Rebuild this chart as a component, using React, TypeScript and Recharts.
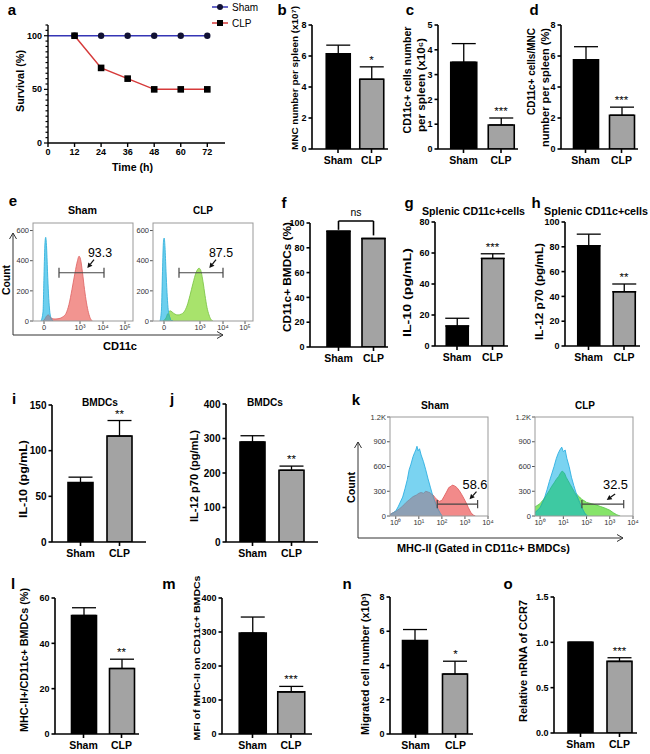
import React from 'react';
import {
  ComposedChart, LineChart, Line, Bar, XAxis, YAxis, ErrorBar, Cell, LabelList,
  Area, ReferenceLine, Legend,
} from 'recharts';

const FONT = '"Liberation Sans", Arial, Helvetica, sans-serif';
const GROUPS = ['Sham', 'CLP'];

// ---------- panel a: survival ----------
const TIME = [0, 12, 24, 36, 48, 60, 72];
const SURV_SHAM = [100, 100, 100, 100, 100, 100, 100];
const SURV_CLP: (number | null)[] = [null, 100, 70, 60, 50, 50, 50];
const TIME_TICKS = [0, 12, 24, 36, 48, 60, 72];
const SURV_TICKS = [0, 5, 10, 15, 20, 25, 30, 35, 40, 45, 50, 55, 60, 65, 70, 75, 80, 85, 90, 95, 100, 105, 110];

// ---------- bar panels (Sham, CLP) ----------
const B_MEAN = [6.15, 4.5]; const B_ERR = [0.55, 0.8]; const B_TICKS = [0, 2, 4, 6, 8];
const C_MEAN = [3.5, 0.97]; const C_ERR = [0.75, 0.28]; const C_TICKS = [0, 1, 2, 3, 4, 5];
const D_MEAN = [5.75, 2.18]; const D_ERR = [0.85, 0.52]; const D_TICKS = [0, 2, 4, 6, 8];
const F_MEAN = [93.3, 87.5]; const F_ERR = [0, 0]; const F_TICKS = [0, 20, 40, 60, 80, 100];
const F_BRACKET = [94.5, 101.6, 90];
const G_MEAN = [12.9, 56.5]; const G_ERR = [5, 3]; const G_TICKS = [0, 20, 40, 60, 80];
const H_MEAN = [80.8, 43.7]; const H_ERR = [9.4, 6.3]; const H_TICKS = [0, 20, 40, 60, 80, 100];
const I_MEAN = [65, 116]; const I_ERR = [6, 17]; const I_TICKS = [0, 50, 100, 150];
const J_MEAN = [290, 208]; const J_ERR = [18, 12]; const J_TICKS = [0, 100, 200, 300, 400];
const L_MEAN = [52.3, 28.9]; const L_ERR = [3.4, 4.1]; const L_TICKS = [0, 20, 40, 60];
const M_MEAN = [297, 124]; const M_ERR = [47, 16]; const M_TICKS = [0, 100, 200, 300, 400];
const N_MEAN = [5.45, 3.5]; const N_ERR = [0.65, 0.75]; const N_TICKS = [0, 2, 4, 6, 8];
const O_MEAN = [1.0, 0.79]; const O_ERR = [0, 0.04]; const O_TICKS = [0, 0.5, 1.0, 1.5];

// ---------- flow histograms ----------
// panel e: x = display channel (0..100), y = count
const E_XTICKS = [11, 47, 70, 92];
const E_XLABELS = ['0', '10³', '10⁴', '10⁵'];
const E_YTICKS = [0, 200, 400, 600];
const E_SHAM_BLUE = [[8, 0], [10, 60], [11, 300], [12, 520], [12.7, 555], [13.5, 500], [14.5, 330], [15.5, 180], [16.5, 80], [18, 20], [20, 0]];
const E_SHAM_RED = [[10, 0], [12, 15], [14, 36], [15.5, 40], [17, 28], [19, 16], [22, 13], [26, 16], [30, 28], [33, 50], [36, 110], [39, 210], [42, 320], [44.5, 400], [46, 430], [47.5, 410], [49.5, 320], [51.5, 210], [53.5, 120], [55.5, 55], [57.5, 15], [59.5, 0]];
const E_SHAM_OVL = [[10, 0], [12, 15], [14, 36], [15.5, 40], [16.5, 33], [18, 18], [20, 0]];
const E_CLP_BLUE = [[7, 0], [8.5, 80], [9.5, 330], [10.5, 530], [11.2, 550], [12, 490], [13, 330], [14, 190], [15, 90], [16.5, 30], [18, 5], [20, 0]];
const E_CLP_GREEN = [[10, 0], [13, 20], [15, 50], [17, 68], [19, 60], [22, 45], [25, 40], [28, 45], [31, 60], [34, 100], [37, 170], [40, 250], [43, 320], [46, 350], [47.5, 340], [50, 260], [52, 170], [54, 90], [56, 40], [58, 10], [60, 0]];
const E_CLP_OVL = [[10, 0], [13, 20], [15, 50], [16.5, 30], [18, 5], [20, 0]];
const E_SHAM_GATE = { x0: 26, x1: 71, y: 320, cap: 33 };
const E_CLP_GATE = { x0: 26, x1: 70, y: 320, cap: 33 };
const E_SHAM_ARROW = [[61, 407], [54.3, 351]];
const E_CLP_ARROW = [[63, 407], [56.3, 351]];

// panel k: x = log10 intensity, y = count
const K_XTICKS = [0, 1, 2, 3, 4];
const K_XLABELS = ['10⁰', '10¹', '10²', '10³', '10⁴'];
const K_YTICKS = [0, 300, 600, 900, 1200];
const K_YLABELS = ['0', '300', '600', '900', '1.2K'];
const K_SHAM_BLUE = [[-0.25, 15], [0, 60], [0.1, 110], [0.2, 170], [0.3, 230], [0.4, 330], [0.5, 440], [0.58, 560], [0.65, 620], [0.75, 720], [0.82, 770], [0.87, 800], [0.92, 845], [0.97, 790], [1.03, 815], [1.1, 740], [1.2, 660], [1.3, 560], [1.4, 450], [1.5, 350], [1.6, 250], [1.7, 170], [1.8, 100], [1.9, 45], [2.0, 0]];
const K_SHAM_RED = [[-0.25, 20], [0, 55], [0.15, 85], [0.3, 120], [0.45, 165], [0.6, 200], [0.75, 235], [0.9, 255], [1.0, 275], [1.1, 285], [1.2, 275], [1.3, 300], [1.4, 290], [1.5, 280], [1.6, 260], [1.7, 225], [1.8, 195], [1.9, 178], [2.0, 190], [2.1, 240], [2.2, 290], [2.3, 345], [2.4, 360], [2.45, 375], [2.55, 365], [2.65, 345], [2.75, 310], [2.85, 265], [2.95, 215], [3.05, 160], [3.15, 100], [3.25, 45], [3.35, 12], [3.45, 0]];
const K_SHAM_OVL = [[-0.25, 15], [0, 55], [0.15, 85], [0.3, 120], [0.45, 165], [0.6, 200], [0.75, 235], [0.9, 255], [1.0, 275], [1.1, 285], [1.2, 275], [1.3, 300], [1.4, 290], [1.5, 280], [1.6, 250], [1.7, 170], [1.8, 100], [1.9, 45], [2.0, 0]];
const K_CLP_BLUE = [[-0.22, 40], [0, 100], [0.1, 160], [0.2, 230], [0.3, 320], [0.4, 420], [0.5, 510], [0.6, 600], [0.7, 700], [0.78, 760], [0.85, 800], [0.93, 835], [1.0, 780], [1.08, 800], [1.15, 700], [1.25, 600], [1.35, 470], [1.45, 370], [1.55, 280], [1.65, 200], [1.75, 130], [1.85, 70], [1.95, 20], [2.05, 0]];
const K_CLP_GREEN = [[-0.22, 110], [0, 150], [0.1, 185], [0.2, 220], [0.3, 265], [0.4, 310], [0.5, 360], [0.6, 400], [0.7, 445], [0.8, 480], [0.88, 520], [0.95, 545], [1.05, 520], [1.12, 470], [1.2, 430], [1.3, 380], [1.4, 330], [1.5, 290], [1.6, 255], [1.7, 230], [1.8, 200], [1.9, 185], [2.0, 165], [2.2, 150], [2.4, 135], [2.6, 115], [2.8, 95], [3.0, 70], [3.15, 40], [3.3, 15], [3.45, 0]];
const K_CLP_OVL = [[-0.22, 40], [0, 100], [0.1, 160], [0.2, 220], [0.3, 265], [0.4, 310], [0.5, 360], [0.6, 400], [0.7, 445], [0.8, 480], [0.88, 520], [0.95, 545], [1.05, 520], [1.12, 470], [1.2, 430], [1.3, 380], [1.4, 330], [1.5, 280], [1.6, 230], [1.7, 165], [1.8, 100], [1.9, 45], [1.95, 20], [2.05, 0]];
const K_SHAM_GATE = { x0: 1.8, x1: 3.55, y: 145, cap: 50 };
const K_CLP_GATE = { x0: 1.8, x1: 3.6, y: 145, cap: 50 };
const K_SHAM_ARROW = [[3.5, 295], [3.2, 202]];
const K_CLP_ARROW = [[3.23, 267], [2.87, 194]];

// ---------- helpers ----------
type BarSpec = {
  mean: number[]; err: number[]; star: string; max: number; ticks: number[];
  ax: number; top: number; zero: number; end: number; c1: number; c2: number; bw: number;
  fmt?: (v: number) => string; bracket?: number[]; tickFont?: number;
};

function BarPanel({ s }: { s: BarSpec }) {
  const YW = 40, MT = 14, XH = 24, MR = 4;
  const plotW = s.end - s.ax;
  const plotH = s.zero - s.top;
  const span = s.c2 - s.c1;
  const d0 = (s.ax - s.c1) / span;
  const d1 = (s.end - s.c1) / span;
  const data = s.mean.map((m, i) => ({
    x: i,
    v: m,
    e: [0, s.err[i]],
    topv: m + s.err[i],
    star: i === 1 ? s.star : '',
  }));
  const axisStyle = { stroke: '#000', strokeWidth: 1.6 };
  return (
    <div style={{ position: 'absolute', left: s.ax - YW, top: s.top - MT }}>
      <ComposedChart width={plotW + YW + MR} height={plotH + MT + XH} data={data}
        margin={{ top: MT, right: MR, left: 0, bottom: 0 }}>
        <XAxis dataKey="x" type="number" domain={[d0, d1]} ticks={[0, 1]} allowDataOverflow
          tickFormatter={(v: number) => GROUPS[v] ?? ''} height={XH} interval={0}
          axisLine={axisStyle} tickLine={axisStyle} tickSize={4} tickMargin={4}
          tick={{ fontSize: 10.5, fontWeight: 700, fill: '#000', fontFamily: FONT }} />
        <YAxis type="number" domain={[0, s.max]} ticks={s.ticks} width={YW} interval={0}
          allowDataOverflow tickFormatter={s.fmt ?? ((v: number) => String(v))}
          axisLine={axisStyle} tickLine={axisStyle} tickSize={3.5} tickMargin={2}
          tick={{ fontSize: s.tickFont ?? 9, fontWeight: 700, fill: '#000', fontFamily: FONT }} />
        <Bar dataKey="v" barSize={s.bw} isAnimationActive={false} stroke="#000" strokeWidth={1.6}>
          {data.map((_, i) => <Cell key={i} fill={i === 0 ? '#000' : '#a3a3a3'} />)}
          <ErrorBar dataKey="e" direction="y" width={12} stroke="#000" strokeWidth={1.3} />
        </Bar>
        <Line dataKey="topv" stroke="none" dot={false} activeDot={false} isAnimationActive={false}>
          <LabelList dataKey="star" position="top" offset={3}
            style={{ fontSize: 11.5, fill: '#000', fontFamily: FONT }} />
        </Line>
        {s.bracket && (
          <>
            <ReferenceLine segment={[{ x: 0, y: s.bracket[0] }, { x: 0, y: s.bracket[1] }]} stroke="#000" strokeWidth={1.6} ifOverflow="visible" />
            <ReferenceLine segment={[{ x: 0, y: s.bracket[1] }, { x: 1, y: s.bracket[1] }]} stroke="#000" strokeWidth={1.6} ifOverflow="visible" />
            <ReferenceLine segment={[{ x: 1, y: s.bracket[1] }, { x: 1, y: s.bracket[2] }]} stroke="#000" strokeWidth={1.6} ifOverflow="visible" />
          </>
        )}
      </ComposedChart>
    </div>
  );
}

const ArrowShape = (p: any) => {
  const { x1, y1, x2, y2 } = p;
  if ([x1, y1, x2, y2].some((v) => v == null || isNaN(v))) return <g />;
  const ang = Math.atan2(y2 - y1, x2 - x1);
  const L = 5, W = 2.6;
  const bx = x2 - L * Math.cos(ang), by = y2 - L * Math.sin(ang);
  const px = -Math.sin(ang) * W, py = Math.cos(ang) * W;
  return (
    <g>
      <line x1={x1} y1={y1} x2={bx} y2={by} stroke="#111" strokeWidth={1.2} />
      <polygon points={`${x2},${y2} ${bx + px},${by + py} ${bx - px},${by - py}`} fill="#111" />
    </g>
  );
};

type Curve = { pts: number[][]; fill: string; stroke: string };
type FlowSpec = {
  box: [number, number, number, number];
  xDomain: [number, number]; xTicks: number[]; xLabels: string[];
  yMax: number; yTicks: number[]; yLabels: string[];
  curves: Curve[]; gate: { x0: number; x1: number; y: number; cap: number };
  arrow: number[][]; curveType: 'monotone' | 'linear';
};

function FlowPanel({ s }: { s: FlowSpec }) {
  const YW = 28, MT = 4, MR = 10, XH = 14;
  const [x0, y0, x1, y1] = s.box;
  const rows: any[] = [];
  s.curves.forEach((c, i) => c.pts.forEach(([x, y]) => rows.push({ x, ['c' + i]: y })));
  rows.sort((a, b) => a.x - b.x);
  const tickStyle = { fontSize: 7.5, fill: '#333', fontFamily: FONT };
  const g = s.gate;
  const span = s.xDomain[1] - s.xDomain[0];
  const extDomain: [number, number] = [s.xDomain[0], s.xDomain[1] + (span * (MR - 3)) / (x1 - x0)];
  return (
    <div style={{ position: 'absolute', left: x0 - YW, top: y0 - MT }}>
      <ComposedChart width={x1 - x0 + YW + MR} height={y1 - y0 + MT + XH} data={rows}
        margin={{ top: MT, right: 3, left: 0, bottom: 0 }}>
        <XAxis dataKey="x" type="number" domain={extDomain} ticks={s.xTicks} allowDataOverflow
          interval={0} height={XH} axisLine={false} tickSize={3} tickMargin={1}
          tickLine={{ stroke: '#555' }} tick={tickStyle}
          tickFormatter={(v: number) => s.xLabels[s.xTicks.indexOf(v)] ?? ''} />
        <YAxis type="number" domain={[0, s.yMax]} ticks={s.yTicks} allowDataOverflow interval={0}
          width={YW} axisLine={false} tickSize={3} tickMargin={1} tickLine={{ stroke: '#555' }}
          tick={tickStyle} tickFormatter={(v: number) => s.yLabels[s.yTicks.indexOf(v)] ?? ''} />
        {s.curves.map((c, i) => (
          <Area key={i} dataKey={'c' + i} type={s.curveType} fill={c.fill} fillOpacity={1}
            stroke={c.stroke} strokeWidth={0.9} connectNulls isAnimationActive={false}
            dot={false} activeDot={false} />
        ))}
        <ReferenceLine segment={[{ x: g.x0, y: g.y }, { x: g.x1, y: g.y }]} stroke="#444" strokeWidth={1.2} ifOverflow="visible" />
        <ReferenceLine segment={[{ x: g.x0, y: g.y - g.cap }, { x: g.x0, y: g.y + g.cap }]} stroke="#444" strokeWidth={1.2} ifOverflow="visible" />
        <ReferenceLine segment={[{ x: g.x1, y: g.y - g.cap }, { x: g.x1, y: g.y + g.cap }]} stroke="#444" strokeWidth={1.2} ifOverflow="visible" />
        <ReferenceLine segment={[{ x: s.arrow[0][0], y: s.arrow[0][1] }, { x: s.arrow[1][0], y: s.arrow[1][1] }]}
          ifOverflow="visible" shape={ArrowShape} />
      </ComposedChart>
    </div>
  );
}

const SurvTick = (p: any) => {
  const v = p.payload?.value;
  const major = v % 50 === 0;
  return (
    <g>
      <line x1={p.x} x2={p.x - (major ? 4 : 2.5)} y1={p.y} y2={p.y} stroke="#000" strokeWidth={1.2} />
      {major && (
        <text x={p.x - 6} y={p.y} textAnchor="end" dominantBaseline="central"
          fontSize={9} fontWeight={700} fontFamily={FONT} fill="#000">{v}</text>
      )}
    </g>
  );
};

const ShamDot = (p: any) => {
  if (p.cy == null || p.index === 0) return <g key={'sd' + p.index} />;
  return <circle key={'sd' + p.index} cx={p.cx} cy={p.cy} r={3.2} fill="#111133" />;
};
const ClpDot = (p: any) => {
  if (p.cy == null || p.value == null) return <g key={'cd' + p.index} />;
  return <rect key={'cd' + p.index} x={p.cx - 3.3} y={p.cy - 3.3} width={6.6} height={6.6} fill="#000" />;
};

function SurvLegend() {
  return (
    <svg width={60} height={32} style={{ overflow: 'visible' }}>
      <line x1={4} x2={20} y1={7} y2={7} stroke="#3535b5" strokeWidth={1.5} />
      <circle cx={12} cy={7} r={3} fill="#111133" />
      <text x={24} y={7} dominantBaseline="central" fontSize={10} fontFamily={FONT} fill="#000">Sham</text>
      <line x1={4} x2={20} y1={23} y2={23} stroke="#d63a3a" strokeWidth={1.5} />
      <rect x={9} y={20} width={6} height={6} fill="#000" />
      <text x={24} y={23} dominantBaseline="central" fontSize={10} fontFamily={FONT} fill="#000">CLP</text>
    </svg>
  );
}

function SurvivalPanel() {
  const data = TIME.map((t, i) => ({ t, sham: SURV_SHAM[i], clp: SURV_CLP[i] }));
  const axisStyle = { stroke: '#000', strokeWidth: 1.4 };
  return (
    <div style={{ position: 'absolute', left: 0, top: 0 }}>
      <LineChart width={265} height={175} data={data} margin={{ top: 25, right: 40, left: 18, bottom: 12 }}>
        <XAxis dataKey="t" type="number" domain={[0, 80]} ticks={TIME_TICKS} allowDataOverflow interval={0}
          height={20} axisLine={axisStyle} tickLine={axisStyle} tickSize={4} tickMargin={2}
          tick={{ fontSize: 9, fontWeight: 700, fill: '#000', fontFamily: FONT }} />
        <YAxis type="number" domain={[0, 110]} ticks={SURV_TICKS} allowDataOverflow interval={0}
          width={30} axisLine={axisStyle} tickLine={false} tickSize={0} tickMargin={0} tick={SurvTick} />
        <Line dataKey="sham" stroke="#3535b5" strokeWidth={1.5} dot={ShamDot} activeDot={false}
          isAnimationActive={false} />
        <Line dataKey="clp" stroke="#d63a3a" strokeWidth={1.5} dot={ClpDot} activeDot={false}
          isAnimationActive={false} connectNulls={false} />
        <Legend layout="vertical" align="center" verticalAlign="middle"
          wrapperStyle={{ left: 208, top: 0, width: 60 }} content={() => <SurvLegend />} />
      </LineChart>
    </div>
  );
}

// ---------- specs ----------
const BAR_SPECS: BarSpec[] = [
  { mean: B_MEAN, err: B_ERR, star: '*', max: 8, ticks: B_TICKS, ax: 312, top: 25, zero: 149, end: 388, c1: 338, c2: 371.5, bw: 24 },
  { mean: C_MEAN, err: C_ERR, star: '***', max: 5, ticks: C_TICKS, ax: 438, top: 25, zero: 149, end: 518, c1: 463.5, c2: 501, bw: 26 },
  { mean: D_MEAN, err: D_ERR, star: '***', max: 8, ticks: D_TICKS, ax: 561, top: 25, zero: 149, end: 638, c1: 585.5, c2: 621.5, bw: 25 },
  { mean: F_MEAN, err: F_ERR, star: '', max: 100, ticks: F_TICKS, ax: 310, top: 223, zero: 347, end: 388, c1: 338.5, c2: 373.5, bw: 23, bracket: F_BRACKET },
  { mean: G_MEAN, err: G_ERR, star: '***', max: 80, ticks: G_TICKS, ax: 435, top: 222, zero: 346, end: 508, c1: 457, c2: 492.5, bw: 22 },
  { mean: H_MEAN, err: H_ERR, star: '**', max: 100, ticks: H_TICKS, ax: 565, top: 222, zero: 346, end: 640, c1: 588.5, c2: 624, bw: 22 },
  { mean: I_MEAN, err: I_ERR, star: '**', max: 150, ticks: I_TICKS, ax: 52, top: 405, zero: 542, end: 146, c1: 80.5, c2: 119.5, bw: 25, tickFont: 10 },
  { mean: J_MEAN, err: J_ERR, star: '**', max: 400, ticks: J_TICKS, ax: 226, top: 404, zero: 542, end: 318, c1: 252.5, c2: 291.5, bw: 25, tickFont: 10 },
  { mean: L_MEAN, err: L_ERR, star: '**', max: 60, ticks: L_TICKS, ax: 55, top: 598, zero: 734, end: 139, c1: 83.5, c2: 121.5, bw: 25 },
  { mean: M_MEAN, err: M_ERR, star: '***', max: 400, ticks: M_TICKS, ax: 222, top: 598, zero: 734, end: 312, c1: 252.5, c2: 291, bw: 27 },
  { mean: N_MEAN, err: N_ERR, star: '*', max: 8, ticks: N_TICKS, ax: 390, top: 597, zero: 734, end: 473, c1: 415.5, c2: 455.5, bw: 25 },
  { mean: O_MEAN, err: O_ERR, star: '***', max: 1.5, ticks: O_TICKS, ax: 554, top: 597, zero: 733, end: 637, c1: 580.5, c2: 619.5, bw: 25, fmt: (v: number) => v.toFixed(1) },
];

const BLUE_E = { fill: '#6ccfee', stroke: '#35b2dc' };
const BLUE_K = { fill: '#7ad3f1', stroke: '#2fb0e2' };
const FLOW_SPECS: FlowSpec[] = [
  {
    box: [33, 223, 133, 321], xDomain: [0, 100], xTicks: E_XTICKS, xLabels: E_XLABELS,
    yMax: 650, yTicks: E_YTICKS, yLabels: E_YTICKS.map(String), curveType: 'monotone',
    curves: [
      { pts: E_SHAM_RED, fill: '#f29490', stroke: '#e06a6a' },
      { pts: E_SHAM_BLUE, ...BLUE_E },
      { pts: E_SHAM_OVL, fill: '#8d9cb0', stroke: '#7d8ca0' },
    ],
    gate: E_SHAM_GATE, arrow: E_SHAM_ARROW,
  },
  {
    box: [153, 223, 253, 321], xDomain: [0, 100], xTicks: E_XTICKS, xLabels: E_XLABELS,
    yMax: 650, yTicks: E_YTICKS, yLabels: E_YTICKS.map(String), curveType: 'monotone',
    curves: [
      { pts: E_CLP_GREEN, fill: '#a8e36c', stroke: '#7fc64a' },
      { pts: E_CLP_BLUE, ...BLUE_E },
      { pts: E_CLP_OVL, fill: '#4fc4a6', stroke: '#3fb496' },
    ],
    gate: E_CLP_GATE, arrow: E_CLP_ARROW,
  },
  {
    box: [390, 417, 488, 516], xDomain: [-0.25, 4], xTicks: K_XTICKS, xLabels: K_XLABELS,
    yMax: 1200, yTicks: K_YTICKS, yLabels: K_YLABELS, curveType: 'linear',
    curves: [
      { pts: K_SHAM_RED, fill: '#f28a8a', stroke: '#e06262' },
      { pts: K_SHAM_BLUE, ...BLUE_K },
      { pts: K_SHAM_OVL, fill: '#8da0b5', stroke: '#7d90a5' },
    ],
    gate: K_SHAM_GATE, arrow: K_SHAM_ARROW,
  },
  {
    box: [535, 417, 633, 516], xDomain: [-0.22, 4], xTicks: K_XTICKS, xLabels: K_XLABELS,
    yMax: 1200, yTicks: K_YTICKS, yLabels: K_YLABELS, curveType: 'linear',
    curves: [
      { pts: K_CLP_GREEN, fill: '#86e46a', stroke: '#5cc94a' },
      { pts: K_CLP_BLUE, ...BLUE_K },
      { pts: K_CLP_OVL, fill: '#3ec9a2', stroke: '#2fb892' },
    ],
    gate: K_CLP_GATE, arrow: K_CLP_ARROW,
  },
];

// ---------- overlay text ----------
type TP = { x: number; y: number; s: string; size?: number; w?: number; len?: number; rot?: boolean; anchor?: string; fill?: string };
function T({ x, y, s, size = 10.5, w = 700, len, rot = false, anchor = 'middle', fill = '#000' }: TP) {
  return (
    <text x={x} y={y} fontSize={size} fontWeight={w} textAnchor={anchor as any} dominantBaseline="central"
      transform={rot ? `rotate(-90 ${x} ${y})` : undefined} textLength={len}
      lengthAdjust={len ? 'spacingAndGlyphs' : undefined} fontFamily={FONT} fill={fill}>{s}</text>
  );
}

const LETTERS: [string, number, number][] = [
  ['a', 12, 9], ['b', 282, 9], ['c', 410, 9], ['d', 534, 9], ['e', 13, 200], ['f', 284, 202],
  ['g', 409, 202], ['h', 536, 202], ['i', 14, 398], ['j', 172, 398], ['k', 356, 399],
  ['l', 13, 583], ['m', 169, 583], ['n', 347, 583], ['o', 508, 583],
];

const YLABELS: [string, number, number, number, number][] = [
  ['Survival (%)', 20, 81, 62, 10.5],
  ['MNC number per spleen (x10⁷)', 295, 78, 144, 9.2],
  ['CD11c+ cells number', 407, 80, 107, 10],
  ['per spleen (x10⁶)', 421, 85, 94, 10],
  ['CD11c+ cells/MNC', 531, 71.5, 87, 10],
  ['number per spleen (%)', 545, 87.5, 119, 10],
  ['CD11c+ BMDCs (%)', 287, 277, 110, 10.5],
  ['IL-10 (pg/mL)', 407, 292.5, 89, 11.5],
  ['IL-12 p70 (pg/mL)', 538.5, 291.5, 97, 10.5],
  ['IL-10 (pg/mL)', 23, 479, 78, 10.5],
  ['IL-12 p70 (pg/mL)', 193.5, 476, 92, 10.5],
  ['MHC-II+/CD11c+ BMDCs (%)', 24, 660, 144, 10],
  ['MFI of MHC-II on CD11c+ BMDCs', 196, 658, 165, 9.8],
  ['Migrated cell number (x10³)', 365, 664, 142, 10],
  ['Relative nRNA of CCR7', 523.5, 661, 122, 10],
  ['Count', 6, 280, 30, 10.5],
  ['Count', 351, 487.5, 31, 10.5],
];

const HLABELS: [string, number, number, number, number, number][] = [
  ['Time (h)', 132.5, 167, 41, 11, 700],
  ['CD11c', 120, 346, 34, 10.5, 700],
  ['MHC-II (Gated in CD11c+ BMDCs)', 483.5, 548, 173, 10.5, 700],
  ['Splenic CD11c+cells', 473.5, 211, 103, 10.5, 700],
  ['Splenic CD11c+cells', 596, 211, 104, 10.5, 700],
  ['BMDCs', 100, 402, 36, 10.5, 700],
  ['BMDCs', 265, 402, 36, 10.5, 700],
  ['Sham', 82.5, 210, 29, 10.5, 700],
  ['CLP', 203, 210, 20, 10.5, 700],
  ['Sham', 435, 405, 28, 10.5, 700],
  ['CLP', 585, 405, 20, 10.5, 700],
  ['93.3', 100, 253, 24, 12.5, 400],
  ['87.5', 221, 253, 24, 12.5, 400],
  ['58.6', 475, 485, 25, 12.5, 400],
  ['32.5', 615.5, 485, 25, 12.5, 400],
  ['ns', 356, 212, 11, 10, 400],
];

function Overlay() {
  const ar = { stroke: '#333', strokeWidth: 1, fill: 'none' };
  return (
    <svg width={650} height={754} style={{ position: 'absolute', left: 0, top: 0, pointerEvents: 'none' }}>
      {LETTERS.map(([s, x, y]) => <T key={s} x={x} y={y} s={s} size={15} />)}
      {YLABELS.map(([s, x, y, len, size], i) => <T key={'y' + i} x={x} y={y} s={s} len={len} rot size={size} />)}
      {HLABELS.map(([s, x, y, len, size, w], i) => <T key={'h' + i} x={x} y={y} s={s} len={len} size={size} w={w} />)}
      {/* flow boxes */}
      <rect x={33} y={223} width={100} height={98} stroke="#999" fill="none" />
      <rect x={153} y={223} width={100} height={98} stroke="#999" fill="none" />
      <rect x={390} y={417} width={98} height={99} stroke="#999" fill="none" />
      <rect x={535} y={417} width={98} height={99} stroke="#999" fill="none" />
      {/* big axis arrows */}
      <polyline points="13,233 13,335 223,335" {...ar} />
      <polyline points="9.5,239 13,233 16.5,239" {...ar} />
      <polyline points="217,331.5 223,335 217,338.5" {...ar} />
      <polyline points="358,442 358,538 623,538" {...ar} />
      <polyline points="354.5,448 358,442 361.5,448" {...ar} />
      <polyline points="617,534.5 623,538 617,541.5" {...ar} />
    </svg>
  );
}

export default function App() {
  return (
    <div style={{ position: 'absolute', left: 0, top: 0, width: 650, height: 754, background: '#fff', fontFamily: FONT, overflow: 'hidden' }}>
      <SurvivalPanel />
      {BAR_SPECS.map((s, i) => <BarPanel key={i} s={s} />)}
      {FLOW_SPECS.map((s, i) => <FlowPanel key={i} s={s} />)}
      <Overlay />
    </div>
  );
}
